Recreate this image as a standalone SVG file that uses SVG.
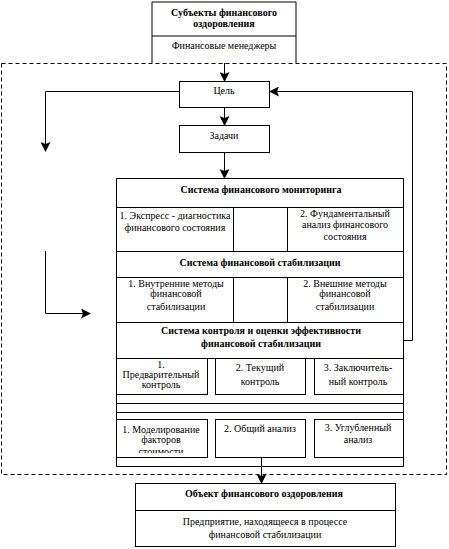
<svg xmlns="http://www.w3.org/2000/svg" width="449" height="549" viewBox="0 0 449 549">
<style>
text{font-family:'Liberation Serif','Times New Roman','DejaVu Serif',serif;font-size:10px;fill:#000;text-anchor:middle}
.b{font-weight:bold}
.ln{fill:none;stroke:#000;stroke-width:1}
.box{fill:#fff;stroke:#000;stroke-width:1}
.dash{fill:none;stroke:#000;stroke-width:1;stroke-dasharray:4 3}
</style>
<defs>
<marker id="ah" markerWidth="10" markerHeight="10" refX="9" refY="5" orient="auto" markerUnits="userSpaceOnUse">
<path d="M0,0 L10,5 L0,10 L2,5 Z" fill="#000"/>
</marker>
<clipPath id="clipM"><rect x="116" y="419" width="91" height="34"/></clipPath>
</defs>
<rect x="0" y="0" width="449" height="549" fill="#fff"/>

<g id="subject">
<path class="ln" d="M152,63 V2 H296 V63 M152,36 H296"/>
<text class="b" x="224" y="16">Субъекты финансового</text>
<text class="b" x="224" y="27">оздоровления</text>
<text x="224" y="49">Финансовые менеджеры</text>
</g>

<rect id="boundary" class="dash" x="1.5" y="63.5" width="445" height="411"/>

<g id="goal">
<rect class="box" x="179.5" y="81.5" width="90" height="26"/>
<text x="224" y="94">Цель</text>
</g>
<g id="tasks">
<rect class="box" x="179.5" y="125.5" width="90" height="27"/>
<text x="224" y="139">Задачи</text>
</g>

<g id="system">
<path class="ln" d="M116.5,178.5 H403.5 V466.5 H116.5 Z M116,207.5 H403 M233.5,207 V251 M287.5,207 V251 M116,251.5 H403 M116,277.5 H403 M233.5,277 V322 M287.5,277 V322 M116,322.5 H403 M116,358.5 H403 M116,403.5 H403 M116,412.5 H403"/>
<rect class="box" x="116.5" y="358.5" width="91" height="36"/>
<rect class="box" x="215.5" y="358.5" width="90" height="36"/>
<rect class="box" x="314.5" y="358.5" width="89" height="36"/>
<rect class="box" x="116.5" y="419.5" width="91" height="38"/>
<rect class="box" x="215.5" y="419.5" width="90" height="38"/>
<rect class="box" x="314.5" y="419.5" width="89" height="38"/>
<text class="b" x="261" y="193">Система финансового мониторинга</text>
<text x="175" y="219">1. Экспресс - диагностика</text>
<text x="175" y="231">финансового состояния</text>
<text x="345" y="217">2. Фундаментальный</text>
<text x="345" y="228">анализ финансового</text>
<text x="345" y="240">состояния</text>
<text class="b" x="260" y="266">Система финансовой стабилизации</text>
<text x="176" y="287">1. Внутренние методы</text>
<text x="176" y="297">финансовой</text>
<text x="176" y="310">стабилизации</text>
<text x="345" y="287">2. Внешние методы</text>
<text x="345" y="297">финансовой</text>
<text x="345" y="310">стабилизации</text>
<text class="b" x="261" y="334">Система контроля и оценки эффективности</text>
<text class="b" x="261" y="347">финансовой стабилизации</text>
<text x="161" y="368">1.</text>
<text x="161" y="378">Предварительный</text>
<text x="161" y="388">контроль</text>
<text x="260" y="371">2. Текущий</text>
<text x="260" y="385">контроль</text>
<text x="358" y="371">3. Заключитель-</text>
<text x="358" y="385">ный контроль</text>
<text x="161" y="433">1. Моделирование</text>
<text x="161" y="443">факторов</text>
<text x="161" y="455" clip-path="url(#clipM)">стоимости</text>
<text x="260" y="432">2. Общий анализ</text>
<text x="358" y="431">3. Углубленный</text>
<text x="358" y="443">анализ</text>
</g>

<g id="object">
<rect class="box" x="135.5" y="483.5" width="260" height="63"/>
<path class="ln" d="M135,510.5 H395"/>
<text class="b" x="264" y="497">Объект финансового оздоровления</text>
<text x="265" y="525">Предприятие, находящееся в процессе</text>
<text x="265" y="538">финансовой стабилизации</text>
</g>

<g id="connectors">
<path class="ln" d="M224.5,63 V81" marker-end="url(#ah)"/>
<path class="ln" d="M224.5,107 V125" marker-end="url(#ah)"/>
<path class="ln" d="M224.5,152 V178" marker-end="url(#ah)"/>
<path class="ln" d="M179,91.5 H45.5 V151" marker-end="url(#ah)"/>
<path class="ln" d="M403,340.5 H412.5 V91.5 H270" marker-end="url(#ah)"/>
<path class="ln" d="M45.5,251 V313.5 H90" marker-end="url(#ah)"/>
<path class="ln" d="M261.5,457 V483" marker-end="url(#ah)"/>
</g>
</svg>
